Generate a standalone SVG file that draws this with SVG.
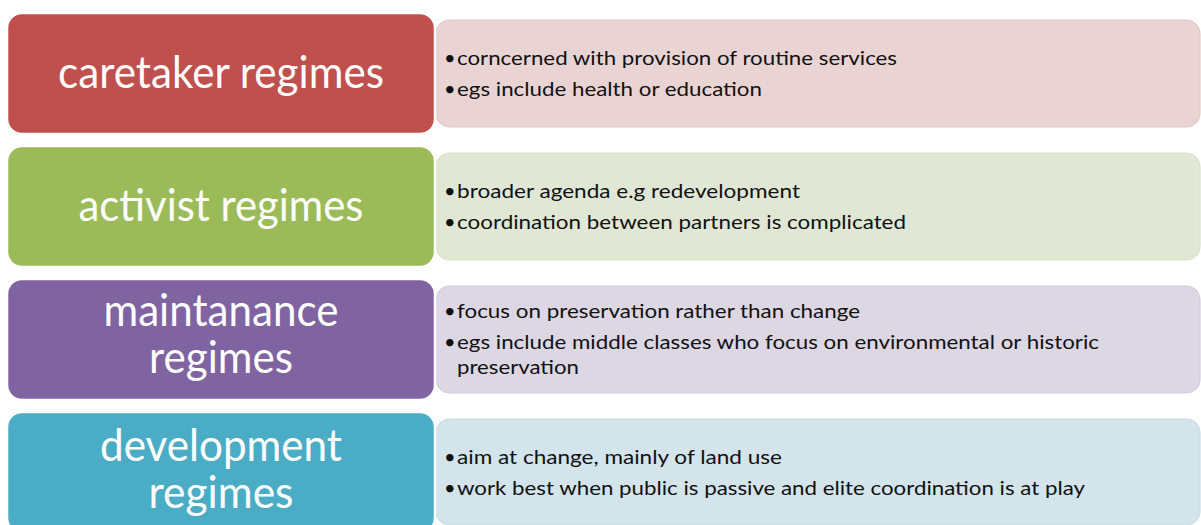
<svg xmlns="http://www.w3.org/2000/svg" width="1201" height="525" viewBox="0 0 1201 525">
<style>
.lbox{stroke:#ffffff;stroke-width:2.5}
.rbox{stroke-width:1.2}
.big{font-family:Lato,"Liberation Sans",sans-serif;font-size:44px;fill:#ffffff;text-anchor:middle}
.body{font-family:Lato,"Liberation Sans",sans-serif;font-size:20px;fill:#111111}
</style>
<rect width="1201" height="525" fill="#ffffff"/>
<g id="row1">
<rect class="rbox" x="436" y="20" width="764" height="107" rx="14" fill="#E9D4D3" stroke="#E3C8C7"/>
<rect class="lbox" x="7" y="13" width="428" height="121" rx="15" fill="#C0504D"/>
<text class="big" x="221" y="88" textLength="326" lengthAdjust="spacingAndGlyphs">caretaker regimes</text>
<text class="body" y="65"><tspan x="444">•</tspan><tspan x="457" textLength="440" lengthAdjust="spacingAndGlyphs">corncerned with provision of routine services</tspan></text>
<text class="body" y="96"><tspan x="444">•</tspan><tspan x="457" textLength="305" lengthAdjust="spacingAndGlyphs">egs include health or education</tspan></text>
</g>
<g id="row2">
<rect class="rbox" x="436" y="153" width="764" height="107" rx="14" fill="#E0E8D5" stroke="#D7E2C8"/>
<rect class="lbox" x="7" y="146" width="428" height="121" rx="15" fill="#9BBB59"/>
<text class="big" x="221" y="221" textLength="285" lengthAdjust="spacingAndGlyphs">activist regimes</text>
<text class="body" y="198"><tspan x="444">•</tspan><tspan x="457" textLength="343" lengthAdjust="spacingAndGlyphs">broader agenda e.g redevelopment</tspan></text>
<text class="body" y="229"><tspan x="444">•</tspan><tspan x="457" textLength="449" lengthAdjust="spacingAndGlyphs">coordination between partners is complicated</tspan></text>
</g>
<g id="row3">
<rect class="rbox" x="436" y="286" width="764" height="107" rx="14" fill="#DCD7E3" stroke="#D3CCDC"/>
<rect class="lbox" x="7" y="279" width="428" height="121" rx="15" fill="#8064A2"/>
<text class="big" x="221" y="326" textLength="235" lengthAdjust="spacingAndGlyphs">maintanance</text>
<text class="big" x="221" y="373" textLength="144" lengthAdjust="spacingAndGlyphs">regimes</text>
<text class="body" y="318"><tspan x="444">•</tspan><tspan x="457" textLength="403" lengthAdjust="spacingAndGlyphs">focus on preservation rather than change</tspan></text>
<text class="body" y="349"><tspan x="444">•</tspan><tspan x="457" textLength="642" lengthAdjust="spacingAndGlyphs">egs include middle classes who focus on environmental or historic</tspan></text>
<text class="body" x="457" y="374" textLength="122" lengthAdjust="spacingAndGlyphs">preservation</text>
</g>
<g id="row4">
<rect class="rbox" x="436" y="419" width="764" height="106" rx="14" fill="#D3E4EA" stroke="#C8DCE4"/>
<rect class="lbox" x="7" y="412" width="428" height="121" rx="15" fill="#4BACC6"/>
<text class="big" x="221" y="461" textLength="242" lengthAdjust="spacingAndGlyphs">development</text>
<text class="big" x="221" y="508" textLength="145" lengthAdjust="spacingAndGlyphs">regimes</text>
<text class="body" y="464"><tspan x="444">•</tspan><tspan x="457" textLength="325" lengthAdjust="spacingAndGlyphs">aim at change, mainly of land use</tspan></text>
<text class="body" y="495"><tspan x="444">•</tspan><tspan x="457" textLength="628" lengthAdjust="spacingAndGlyphs">work best when public is passive and elite coordination is at play</tspan></text>
</g>
<g id="connectors"></g>
</svg>
